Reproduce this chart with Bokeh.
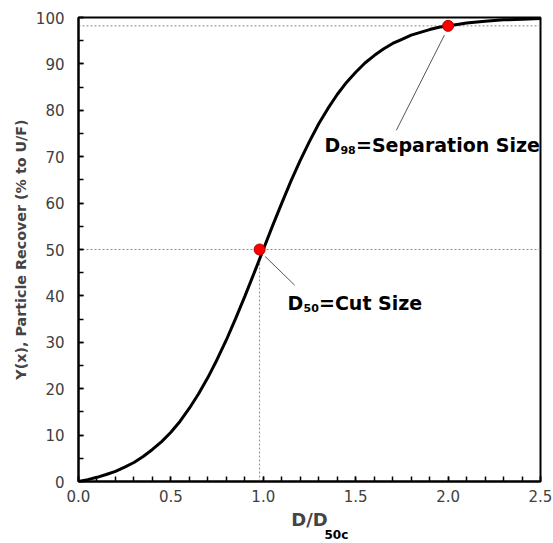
from bokeh.plotting import figure
from bokeh.models import Range1d, Label, FixedTicker, Title
from bokeh.embed import file_html
from bokeh.resources import INLINE

# curve
x_vals = [0.0, 0.05, 0.1, 0.15, 0.2, 0.25, 0.3, 0.35, 0.4, 0.45, 0.5, 0.55, 0.6, 0.65,
          0.7, 0.75, 0.8, 0.85, 0.9, 0.95, 1.0, 1.05, 1.1, 1.15, 1.2, 1.25, 1.3, 1.35,
          1.4, 1.45, 1.5, 1.55, 1.6, 1.65, 1.7, 1.75, 1.8, 1.85, 1.9, 1.95, 2.0, 2.05,
          2.1, 2.2, 2.3, 2.4, 2.5]
y_vals = [0.0, 0.4, 0.9, 1.5, 2.2, 3.1, 4.1, 5.4, 6.9, 8.6, 10.6, 13.0, 15.8, 18.9,
          22.4, 26.3, 30.5, 35.1, 39.9, 44.9, 50.0, 55.1, 60.0, 64.8, 69.2, 73.3, 77.1, 80.4,
          83.4, 86.0, 88.2, 90.2, 91.8, 93.2, 94.4, 95.3, 96.2, 96.8, 97.4, 97.9, 98.2, 98.5,
          98.8, 99.2, 99.5, 99.6, 99.8]

# marked points
pt_x = [0.98, 2.0]
pt_y = [50.0, 98.2]

x_ticks = [0.0, 0.5, 1.0, 1.5, 2.0, 2.5]
y_ticks = [0, 10, 20, 30, 40, 50, 60, 70, 80, 90, 100]

FONT = "DejaVu Sans"
TICK_COLOR = "#404040"

p = figure(width=553, height=543, output_backend="svg", toolbar_location=None,
           x_range=Range1d(0, 2.5), y_range=Range1d(0, 100),
           min_border_left=78, min_border_right=13, min_border_top=17, min_border_bottom=62)
p.grid.visible = False
p.background_fill_color = "white"
p.border_fill_color = "white"
p.outline_line_color = "black"
p.outline_line_width = 2

# axes
p.xaxis.ticker = FixedTicker(ticks=x_ticks, minor_ticks=[i / 10 for i in range(26)])
p.yaxis.ticker = FixedTicker(ticks=y_ticks, minor_ticks=list(range(0, 101, 5)))
p.xaxis.major_label_overrides = {t: f"{t:.1f}" for t in x_ticks}
for ax in (p.xaxis[0], p.yaxis[0]):
    ax.axis_line_color = "black"
    ax.axis_line_width = 2
    ax.major_tick_in = 5
    ax.major_tick_out = 0
    ax.minor_tick_in = 5
    ax.minor_tick_out = 0
    ax.major_tick_line_width = 1.5
    ax.minor_tick_line_width = 1.5
    ax.major_label_text_font = FONT
    ax.major_label_text_font_size = "15px"
    ax.major_label_text_color = TICK_COLOR
p.xaxis.major_label_standoff = 8
p.yaxis.major_label_standoff = 14
p.yaxis.axis_label = "Y(x), Particle Recover (% to U/F)"
p.yaxis.axis_label_text_font = FONT
p.yaxis.axis_label_text_font_style = "bold"
p.yaxis.axis_label_text_font_size = "14.3px"
p.yaxis.axis_label_standoff = 4

# x axis label: main part on the axis, subscript as a title just below it
p.xaxis.axis_label = "D/D"
p.xaxis.axis_label_text_font = FONT
p.xaxis.axis_label_text_font_style = "bold"
p.xaxis.axis_label_text_font_size = "18px"
p.xaxis.axis_label_standoff = 4
sub_title = Title(text="50c", align="left", offset=246, standoff=-10, vertical_align="top",
                  text_font=FONT, text_font_style="bold", text_font_size="12px",
                  text_color="black")
p.add_layout(sub_title, "below")

# dashed guide lines
dash = dict(line_color="#8a8a8a", line_width=1, line_dash="2 2")
p.segment(x0=[0, 0], y0=pt_y, x1=[2.5, 2.5], y1=pt_y, **dash)
p.segment(x0=[pt_x[0]], y0=[0], x1=[pt_x[0]], y1=[pt_y[0]], **dash)

# curve
p.line(x_vals, y_vals, line_color="black", line_width=3)

# leader lines
p.segment(x0=[pt_x[0] + 0.03, pt_x[1] - 0.02], y0=[pt_y[0] - 1.5, pt_y[1] - 2],
          x1=[pt_x[0] + 0.19, pt_x[1] - 0.28], y1=[pt_y[0] - 7.7, pt_y[1] - 22.5],
          line_color="#555555", line_width=1)

# markers
p.scatter(pt_x, pt_y, size=11, fill_color="#ff0000", line_color="#b00000", line_width=1)

# annotations
def rich(x, y, parts, size, sub_size, sub_dy):
    off = 0
    for txt, sub, w in parts:
        p.add_layout(Label(x=x, y=y, x_offset=off, y_offset=(sub_dy if sub else 0),
                           text=txt, text_font=FONT, text_font_style="bold",
                           text_font_size=(f"{sub_size}px" if sub else f"{size}px"),
                           text_baseline="middle", text_color="black"))
        off += w

rich(1.131, 38.4, [("D", False, 16), ("50", True, 15.5), ("=Cut Size", False, 0)], 19, 11, -5)
rich(1.331, 72.6, [("D", False, 16), ("98", True, 15.5), ("=Separation Size", False, 0)], 19, 11, -5)

open("out.html", "w").write(file_html(p, INLINE))
